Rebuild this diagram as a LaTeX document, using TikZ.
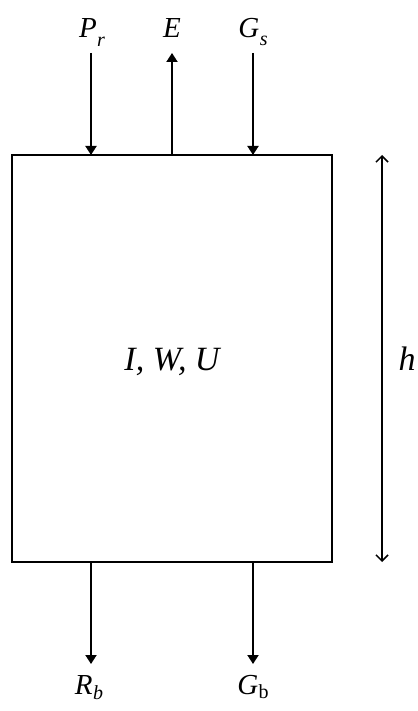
\documentclass[tikz,border=0pt]{standalone}
\usepackage{fontspec}
\setmainfont{Liberation Serif}
\usetikzlibrary{arrows.meta}
\newcommand{\mysub}[2]{\kern0.5pt\raisebox{-#1pt}{\fontsize{20}{20}\selectfont #2}}
\begin{document}
\begin{tikzpicture}[x=1pt,y=-1pt,
  flow/.style={line width=1.9pt,-{Triangle[width=11pt,length=9pt]}},
  dim/.style={line width=1.7pt,{Straight Barb[width=12pt,length=6pt,line width=1.5pt]}-{Straight Barb[width=12pt,length=6pt,line width=1.5pt]}},
  lab/.style={font=\fontsize{29}{32}\selectfont\itshape,inner sep=0pt,anchor=base},
  big/.style={font=\fontsize{34}{38}\selectfont\itshape,inner sep=0pt,anchor=base}]
\useasboundingbox (0,0) rectangle (417,711);
\node[draw,line width=1.8pt,minimum width=320pt,minimum height=407pt,inner sep=0pt] (box) at (172,358.5) {};
\node[big] (il) at (172,370) {I, W, U};
% top
\coordinate (prT) at (91,53);
\coordinate (eT) at (172,53);
\coordinate (gsT) at (253,53);
\coordinate (prB) at (91,155);
\coordinate (eB) at (172,155);
\coordinate (gsB) at (253,155);
\node[lab] (pr) at (92,38) {P\mysub{9}{r}};
\node[lab] (e) at (172,38) {E};
\node[lab] (gs) at (253,38) {G\mysub{8}{s}};
\draw[flow] (prT) -- (prB);
\draw[flow] (eB) -- (eT);
\draw[flow] (gsT) -- (gsB);
% bottom
\coordinate (rbT) at (91,562);
\coordinate (gbT) at (253,562);
\coordinate (rbB) at (91,664);
\coordinate (gbB) at (253,664);
\draw[flow] (rbT) -- (rbB);
\draw[flow] (gbT) -- (gbB);
\node[lab] (rb) at (89,694) {R\mysub{5}{b}};
\node[lab] (gb) at (253,694) {G\mysub{4}{\upshape b}};
% height
\coordinate (hT) at (382,155);
\coordinate (hB) at (382,562);
\draw[dim] (hT) -- (hB);
\node[big] (h) at (407,370) {h};
\end{tikzpicture}
\end{document}
